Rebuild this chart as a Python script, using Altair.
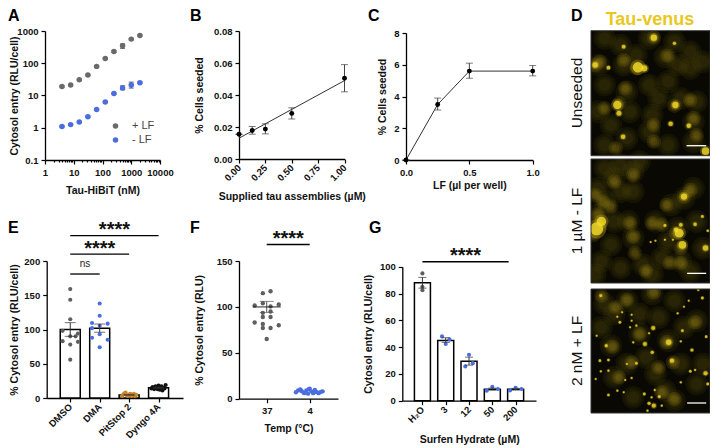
import altair as alt
import pandas as pd

FONT = "Liberation Sans"
GRAY = "#5f5f5f"
BLUE = "#4a6ee0"
ORANGE = "#c8862e"
W, H = 702, 440

# Panel A
a_x = [3.9, 7.8, 15.6, 31, 62.5, 125, 250, 500, 1000, 2000]
a_plus = [19, 21, 31, 43, 80, 140, 230, 350, 560, 730]
a_minus = [1.1, 1.25, 1.5, 2.2, 3.7, 6.3, 11.5, 17, 21, 25]
a_plus_lo = [18, 20, 30, 41, 77, 135, 215, 290, 530, 700]
a_plus_hi = [20, 22, 32, 45, 83, 145, 245, 400, 590, 760]
a_minus_lo = [1.05, 1.2, 1.43, 2.1, 3.5, 6.0, 10.8, 15, 17, 23.5]
a_minus_hi = [1.15, 1.3, 1.57, 2.3, 3.9, 6.6, 12.2, 20, 26, 26.5]
a_xticks = [1, 2, 3, 4, 5, 6, 7, 8, 9, 10, 20, 30, 40, 50, 60, 70, 80, 90, 100, 200, 300, 400, 500,
            600, 700, 800, 900, 1000, 2000, 3000, 4000, 5000, 6000, 7000, 8000, 9000, 10000]
a_yticks = [0.1, 1, 10, 100, 1000]

# Panel B
b_x = [0, 0.125, 0.25, 0.5, 1.0]
b_y = [0.0155, 0.0178, 0.0187, 0.0285, 0.0505]
b_lo = [0.0155, 0.0155, 0.0157, 0.025, 0.042]
b_hi = [0.0155, 0.0203, 0.022, 0.032, 0.059]
b_fit_x = [0, 1.0]
b_fit_y = [0.013, 0.049]

# Panel C
c_x = [0, 0.25, 0.5, 1.0]
c_y = [0, 3.5, 5.6, 5.6]
c_lo = [0, 3.15, 5.15, 5.3]
c_hi = [0, 3.9, 6.1, 5.95]

# Panel E
e_names = ["DMSO", "DMA", "PitStop 2", "Dyngo 4A"]
e_mean = [100, 102, 4.5, 15]
e_lo = [90, 96, 4, 14.3]
e_hi = [110, 108, 5, 15.7]
e_px = [0, 0, 0, -0.26, 0.26, 0, 0.18, -0.26, 0.26, 0, 0, 1, 1, 0.74, 1.27, 1, 0.74, 0.74, 1, 1.27, 1]
e_py = [159, 143.5, 115, 98, 94, 90, 90, 83, 82, 78, 56, 138, 120, 109.5, 108.5, 105.5, 102, 88, 93, 85, 74]
e_pc = ["DMSO"] * 11 + ["DMA"] * 10
e3_px = [1.76, 1.8, 1.84, 1.88, 1.92, 1.96, 2.0, 2.04, 2.08, 2.12, 2.16, 2.2, 2.24]
e3_py = [3, 5, 7, 8, 4, 3, 5, 6, 3, 4, 6, 3, 4.5]
e4_px = [2.76, 2.8, 2.85, 2.9, 2.94, 3.0, 3.04, 3.08, 3.13, 3.17, 3.2, 3.24, 2.96, 3.1]
e4_py = [14, 16, 13, 17, 15, 18, 12, 16, 11, 15, 14, 19, 13, 17]
e_sig_x = [0, 0, 0]
e_sig_x2 = [1, 2, 3]
e_sig_y = [181, 210, 237]
e_txt_x = [0.5, 1, 1.5]
e_txt_y = [195, 224, 251]
e_txt = ["ns", "****", "****"]

# Panel F
f_names = ["37", "4"]
f_x37 = [0.09, -0.09, -0.09, -0.28, 0.28, 0.09, -0.09, 0.09, -0.28, -0.09, 0.09, -0.09, 0.28, -0.09, 0.09, 0]
f_y37 = [117, 115, 104, 101.5, 102.6, 100.5, 93.5, 95, 83, 89, 89, 81.5, 80, 77, 77, 65]
f_x4 = [0.68, 0.73, 0.78, 0.82, 0.87, 0.92, 0.96, 1.0, 1.04, 1.08, 1.12, 1.17, 1.21, 1.26, 1.3, 0.8, 0.98, 1.1]
f_y4 = [7, 9, 10, 8, 6, 9, 5.5, 11, 8, 6, 9.5, 7, 6, 7.5, 8, 9, 10.5, 7]
f_mean_x = [0]
f_mean_y = [100]
f_lo = [94]
f_hi = [106]

# Panel G
g_names = ["H\u2082O", "3", "12", "50", "200"]
g_mean = [88, 45, 29.5, 8.5, 8.5]
g_lo = [84, 43.5, 26.5, 7.8, 7.9]
g_hi = [92, 47, 32.5, 9.4, 9.2]
g_px = [0, 0, 0, 0.84, 1.16, 1, 2, 2.16, 1.84, 3, 3.24, 2.76, 4, 4.25, 3.76]
g_py = [95, 85, 82.5, 48, 45.8, 42.3, 34.3, 28, 25.6, 10.4, 8.7, 7.5, 9.7, 8.7, 7.7]
g_pc = ["a"] * 3 + ["b"] * 12

# Panel D blobs, positions read in a 3x crop of each image
d1_faint = [(60,40),(110,60),(200,40),(280,50),(160,90),(120,120),(40,120),(250,95),(330,80),(60,180),(130,200),
            (200,180),(260,170),(330,130),(370,110),(40,260),(80,300),(140,260),(210,270),(300,220),(350,230),
            (340,290),(200,320),(130,340),(60,360),(260,360),(340,350),(290,120),(230,220)]
d1_mid = [(215,38),(258,92),(160,130),(120,105),(125,190),(105,235),(60,250),(280,242),(330,225),(340,280),
          (215,300),(215,350),(95,370),(350,330),(45,110),(30,120)]
d1_bright = [(165,127,110),(185,130,40),(100,240,70),(105,265,25),(283,240,40),(30,120,30),(268,296,20),(325,302,20),
             (118,335,20),(72,128,14),(120,65,14),(378,378,60),(215,38,40),(280,55,10)]
d2_faint = [(60,40),(110,30),(150,50),(90,70),(40,100),(110,110),(60,140),(150,110),(40,180),(30,220),(90,200),
            (135,200),(150,250),(80,270),(50,320),(110,340),(180,330),(240,310),(300,320),(330,350),(270,150),
            (340,100),(310,130),(290,220),(220,200),(350,200),(260,260),(210,360),(30,360),(370,280),(170,20)]
d2_mid = [(150,60),(90,80),(30,120),(55,140),(80,155),(255,150),(330,105),(310,125),(210,205),(150,245),(140,205),
          (285,235),(300,280),(265,325),(300,325),(190,350),(40,180),(25,240),(45,215),(155,295),(240,210)]
d2_bright = [(35,222,170),(50,200,90),(295,235,80),(305,270,60),(310,125,40),(378,280,30),(345,208,12),(250,212,8),
             (368,185,8),(385,228,6),(205,262,4),(220,258,4),(250,255,4),(275,255,4),(300,210,14),(285,225,20)]
d3_faint = [(60,60),(130,50),(210,30),(280,50),(90,90),(170,90),(230,100),(350,110),(310,130),(170,150),(80,185),
            (130,240),(190,220),(260,170),(300,240),(90,280),(250,320),(280,350),(350,300),(50,130),(220,270),
            (150,340),(370,240)]
d3_mid = [(130,48),(95,70),(215,25),(170,150),(85,188),(255,175),(145,235),(105,280),(280,345),(240,325),(345,115),
          (230,250),(50,35),(275,235)]
d3_bright = [(262,175,30),(213,132,16),(187,180,16),(272,230,18),(335,198,10),(210,205,10),(65,185,10),(45,230,7),
             (72,228,7),(160,238,7),(48,262,5),(72,260,5),(32,285,4),(125,288,4),(145,282,5),(100,320,5),(72,333,7),
             (120,325,4),(185,330,8),(232,338,8),(208,340,5),(200,358,10),(215,365,18),(240,365,5),(195,380,5),
             (378,268,18),(330,262,7),(345,258,5),(385,300,8),(300,295,5),(218,318,5),(290,88,5),(145,92,4),
             (145,110,4),(160,125,5),(108,115,7),(48,35,8),(368,42,8),(355,18,5),(325,50,4),(380,158,7),(305,140,7),
             (200,148,4),(300,172,5),(150,175,5),(130,240,4),(310,68,4),(35,155,4),(140,130,4),(115,85,4),(100,98,4)]
d_names = ["Unseeded", "1 \u00b5M - LF", "2 nM + LF"]
d_bars = [(318, 380, 362), (320, 380, 356), (320, 380, 357)]
d_domains = [(17, 392), (12, 385), (15, 387)]
d_pixel_top = [30.7, 159, 289]
d_pixel_bottom = [155.7, 283, 413]
d_centers = [93, 221, 351]
D_LEFT, D_RIGHT = 591, 710


def px(v):
    return v - 8


def xaxis(left, bottom, **kw):
    return alt.Axis(orient="bottom", offset=-(H - px(bottom)), **kw)


def yaxis(left, **kw):
    return alt.Axis(orient="left", offset=-px(left), **kw)


def letter(ch, x, y):
    return alt.Chart(pd.DataFrame({"t": [ch]})).mark_text(
        font=FONT, fontWeight="bold", fontSize=16, align="left", baseline="top", color="black"
    ).encode(x=alt.value(px(x)), y=alt.value(px(y)), text="t:N")


def err(df, xe, ys, yax, cap, color="#222222", width=1.0):
    base = alt.Chart(df)
    lo = alt.Y("lo:Q", scale=ys, axis=yax)
    hi = alt.Y("hi:Q", scale=ys, axis=yax)
    return alt.layer(
        base.mark_rule(color=color, strokeWidth=width).encode(x=xe, y=lo, y2=alt.Y2("hi:Q")),
        base.mark_tick(color=color, orient="horizontal", size=cap, thickness=width).encode(x=xe, y=lo),
        base.mark_tick(color=color, orient="horizontal", size=cap, thickness=width).encode(x=xe, y=hi))


# ---------- A ----------
ax_a = xaxis(45, 160, values=a_xticks, title="Tau-HiBiT (nM)", titlePadding=9, labelOverlap=False,
             labelExpr="indexof([1,10,100,1000,10000],datum.value)>=0 ? format(datum.value,'d') : ''",
             tickSize={"condition": {"test": "indexof([1,10,100,1000,10000],datum.value)>=0", "value": 4}, "value": 2})
xA = alt.X("x:Q", scale=alt.Scale(type="log", domain=[1, 10000], range=[px(45), px(160)]), axis=ax_a)
ysA = alt.Scale(type="log", domain=[0.1, 1000], range=[px(160), px(31)])
yaA = yaxis(45, values=a_yticks, title="Cytosol entry (RLU/cell)", titlePadding=-3,
            labelExpr="datum.value<1 ? '0.1' : format(datum.value,'d')")
yA = alt.Y("y:Q", scale=ysA, axis=yaA)
dfA = pd.DataFrame({"x": a_x * 2, "y": a_plus + a_minus, "lo": a_plus_lo + a_minus_lo, "hi": a_plus_hi + a_minus_hi,
                    "s": ["+ LF"] * 10 + ["- LF"] * 10})
A = alt.layer(
    err(dfA, xA, ysA, yaA, 5),
    alt.Chart(dfA).mark_circle(size=30, opacity=1).encode(
        x=xA, y=yA,
        color=alt.Color("s:N", scale=alt.Scale(domain=["+ LF", "- LF"], range=["#6a6a6a", BLUE]),
                        legend=alt.Legend(orient="none", legendX=px(110), legendY=px(120.5), title=None, symbolType="circle",
                                          symbolSize=30, labelFontSize=11, labelColor="#444444", labelFontWeight="normal",
                                          rowPadding=2, labelOffset=11))),
)

# ---------- B ----------
xB = alt.X("x:Q", scale=alt.Scale(domain=[0, 1], range=[px(239), px(344.5)]),
           axis=xaxis(239, 159, values=[0, 0.25, 0.5, 0.75, 1], format=".2f", labelAngle=-45, labelAlign="right",
                      labelBaseline="middle", title="Supplied tau assemblies (\u00b5M)", titlePadding=9))
ysB = alt.Scale(domain=[0, 0.08], range=[px(159), px(31)])
yaB = yaxis(239, values=[0, 0.02, 0.04, 0.06, 0.08], format=".2f", title="% Cells seeded", titlePadding=9)
yB = alt.Y("y:Q", scale=ysB, axis=yaB)
dfB = pd.DataFrame({"x": b_x, "y": b_y, "lo": b_lo, "hi": b_hi})
B = alt.layer(
    alt.Chart(pd.DataFrame({"x": b_fit_x, "y": b_fit_y})).mark_line(color="#333333", strokeWidth=1).encode(x=xB, y=yB),
    err(dfB, xB, ysB, yaB, 7, "#444444"),
    alt.Chart(dfB).mark_circle(size=24, color="black", opacity=1).encode(x=xB, y=yB),
)

# ---------- C ----------
xC = alt.X("x:Q", scale=alt.Scale(domain=[0, 1], range=[px(406), px(532.7)]),
           axis=xaxis(406, 160, values=[0, 0.5, 1], format=".1f", title="LF (\u00b5l per well)", titlePadding=4))
ysC = alt.Scale(domain=[0, 8], range=[px(160), px(33)])
yaC = yaxis(406, values=[0, 2, 4, 6, 8], title="% Cells seeded", titlePadding=6)
yC = alt.Y("y:Q", scale=ysC, axis=yaC)
dfC = pd.DataFrame({"x": c_x, "y": c_y, "lo": c_lo, "hi": c_hi})
C = alt.layer(
    alt.Chart(dfC).mark_line(color="#333333", strokeWidth=1).encode(x=xC, y=yC),
    err(dfC, xC, ysC, yaC, 7, "#444444"),
    alt.Chart(dfC).mark_circle(size=24, color="black", opacity=1).encode(x=xC, y=yC),
)

# ---------- E ----------
xE = alt.X("x:Q", scale=alt.Scale(domain=[-0.63, 3.66], range=[px(46.7), px(183)]),
           axis=xaxis(46.7, 398, values=[0, 1, 2, 3], title=None, labelAngle=-45, labelAlign="right", labelBaseline="middle",
                      labelOverlap=False, labelExpr="%s[datum.value]" % str(e_names)))
ysE = alt.Scale(domain=[0, 200], range=[px(398), px(261)])
yaE = yaxis(46.7, values=[0, 50, 100, 150, 200], title="% Cytosol entry (RLU/cell)", titlePadding=4)
yE = alt.Y("y:Q", scale=ysE, axis=yaE)
dfE = pd.DataFrame({"x": [0, 1, 2, 3], "y": e_mean, "lo": e_lo, "hi": e_hi})
ptsE = pd.DataFrame({"x": e_px + e3_px + e4_px, "y": e_py + e3_py + e4_py,
                     "c": e_pc + ["PitStop 2"] * len(e3_px) + ["Dyngo 4A"] * len(e4_px)})
sigE = pd.DataFrame({"x": e_sig_x, "x2": e_sig_x2, "y": e_sig_y})
txtE = pd.DataFrame({"x": e_txt_x, "y": e_txt_y, "t": e_txt})
E = alt.layer(
    alt.Chart(dfE).mark_bar(size=20, orient="vertical", fill="white", stroke="black", strokeWidth=1.5).encode(x=xE, y=yE),
    alt.Chart(ptsE).mark_circle(size=17, opacity=1).encode(
        x=xE, y=yE, color=alt.Color("c:N", legend=None, scale=alt.Scale(domain=e_names, range=[GRAY, BLUE, ORANGE, "#111111"]))),
    err(dfE, xE, ysE, yaE, 11, "#333333"),
    alt.Chart(sigE).mark_rule(color="black", strokeWidth=1.3).encode(x=xE, x2="x2:Q", y=yE),
    alt.Chart(txtE[txtE.t == "ns"]).mark_text(font=FONT, fontSize=10, color="#222222").encode(x=xE, y=yE, text="t:N"),
    alt.Chart(txtE[txtE.t != "ns"]).mark_text(font=FONT, fontSize=20, fontWeight="bold", color="#111111", dy=4).encode(x=xE, y=yE, text="t:N"),
)

# ---------- F ----------
xF = alt.X("x:Q", scale=alt.Scale(domain=[-0.644, 1.658], range=[px(239), px(338)]),
           axis=xaxis(239, 398.7, values=[0, 1], title="Temp (\u00b0C)", titlePadding=8, labelAngle=0,
                      labelExpr="%s[datum.value]" % str(f_names)))
ysF = alt.Scale(domain=[0, 150], range=[px(398.7), px(261)])
yaF = yaxis(239, values=[0, 50, 100, 150], title="% Cytosol entry (RLU)", titlePadding=12)
yF = alt.Y("y:Q", scale=ysF, axis=yaF)
ptsF = pd.DataFrame({"x": f_x37 + f_x4, "y": f_y37 + f_y4, "c": ["a"] * len(f_x37) + ["b"] * len(f_x4)})
dfF = pd.DataFrame({"x": f_mean_x, "y": f_mean_y, "lo": f_lo, "hi": f_hi})
F = alt.layer(
    alt.Chart(ptsF).mark_circle(size=19, opacity=1).encode(
        x=xF, y=yF, color=alt.Color("c:N", legend=None, scale=alt.Scale(domain=["a", "b"], range=[GRAY, BLUE]))),
    err(dfF, xF, ysF, yaF, 14, "#555555"),
    alt.Chart(dfF).mark_tick(color="#111111", orient="horizontal", size=28, thickness=1.3).encode(x=xF, y=yF),
    alt.Chart(pd.DataFrame({"x": [0], "x2": [1], "y": [168]})).mark_rule(color="black", strokeWidth=1.3).encode(x=xF, x2="x2:Q", y=yF),
    alt.Chart(pd.DataFrame({"x": [0.5], "y": [178], "t": ["****"]})).mark_text(font=FONT, fontSize=20, fontWeight="bold", color="#111111", dy=4).encode(x=xF, y=yF, text="t:N"),
)

# ---------- G ----------
xG = alt.X("x:Q", scale=alt.Scale(domain=[-0.649, 4.66], range=[px(402.3), px(536)]),
           axis=xaxis(402.3, 400.7, values=[0, 1, 2, 3, 4], title="Surfen Hydrate (\u00b5M)", titlePadding=11, labelAngle=-45,
                      labelAlign="right", labelBaseline="middle", labelOverlap=False, labelExpr="%s[datum.value]" % str(g_names)))
ysG = alt.Scale(domain=[0, 100], range=[px(400.7), px(266.7)])
yaG = yaxis(402.3, values=[0, 20, 40, 60, 80, 100], title="Cytosol entry (RLU/cell)", titlePadding=6)
yG = alt.Y("y:Q", scale=ysG, axis=yaG)
dfG = pd.DataFrame({"x": [0, 1, 2, 3, 4], "y": g_mean, "lo": g_lo, "hi": g_hi})
ptsG = pd.DataFrame({"x": g_px, "y": g_py, "c": g_pc})
G = alt.layer(
    alt.Chart(dfG).mark_bar(size=16, orient="vertical", fill="white", stroke="black", strokeWidth=1.5).encode(x=xG, y=yG),
    alt.Chart(ptsG).mark_circle(size=17, opacity=1).encode(
        x=xG, y=yG, color=alt.Color("c:N", legend=None, scale=alt.Scale(domain=["a", "b"], range=[GRAY, BLUE]))),
    err(dfG, xG, ysG, yaG, 8, "#333333"),
    alt.Chart(pd.DataFrame({"x": [0], "x2": [3.7], "y": [103.7]})).mark_rule(color="black", strokeWidth=1.3).encode(x=xG, x2="x2:Q", y=yG),
    alt.Chart(pd.DataFrame({"x": [1.85], "y": [110.7], "t": ["****"]})).mark_text(font=FONT, fontSize=20, fontWeight="bold", color="#111111", dy=4).encode(x=xG, y=yG, text="t:N"),
)


# ---------- D ----------
def image(i, faint, mid, bright):
    lo, hi = d_domains[i]
    xs = alt.Scale(domain=[17, 392], range=[px(D_LEFT), px(D_RIGHT)])
    ys = alt.Scale(domain=[lo, hi], range=[px(d_pixel_top[i]), px(d_pixel_bottom[i])])
    xD = alt.X("x:Q", scale=xs, axis=None)
    yD = alt.Y("y:Q", scale=ys, axis=None)
    fdf = pd.DataFrame(faint, columns=["x", "y"])
    mdf = pd.DataFrame(mid, columns=["x", "y"])
    bdf = pd.DataFrame(bright, columns=["x", "y", "s"])
    bg = pd.DataFrame({"x": [17], "x2": [392], "y": [lo], "y2": [hi]})
    layers = [alt.Chart(bg).mark_rect(fill="#0a0802").encode(x=xD, x2="x2:Q", y=yD, y2="y2:Q")]
    for size in (520, 300, 150):
        layers.append(alt.Chart(fdf).mark_circle(size=size, color="#6e6212", opacity=0.12).encode(x=xD, y=yD))
    for size in (210, 110, 45):
        layers.append(alt.Chart(mdf).mark_circle(size=size, color="#b49c1e", opacity=0.15).encode(x=xD, y=yD))
    bdf = bdf.assign(g=bdf.s * 2.2)
    layers.append(alt.Chart(bdf).mark_circle(color="#e6cc22", opacity=0.25).encode(x=xD, y=yD, size=alt.Size("g:Q", scale=None)))
    layers.append(alt.Chart(bdf).mark_circle(color="#f4dc28", opacity=0.8).encode(x=xD, y=yD, size=alt.Size("s:Q", scale=None)))
    return alt.layer(*layers)


def overlay(i):
    lo, hi = d_domains[i]
    xs = alt.Scale(domain=[17, 392], range=[px(D_LEFT), px(D_RIGHT)])
    ys = alt.Scale(domain=[lo, hi], range=[px(d_pixel_top[i]), px(d_pixel_bottom[i])])
    xD = alt.X("x:Q", scale=xs, axis=None)
    yD = alt.Y("y:Q", scale=ys, axis=None)
    b = d_bars[i]
    bg = pd.DataFrame({"x": [17], "x2": [392], "y": [lo], "y2": [hi]})
    return alt.layer(
        alt.Chart(bg).mark_rect(fillOpacity=0, stroke="#333333", strokeWidth=1).encode(x=xD, x2="x2:Q", y=yD, y2="y2:Q"),
        alt.Chart(pd.DataFrame({"x": [b[0]], "x2": [b[1]], "y": [b[2]]})).mark_rule(color="white", strokeWidth=1.3).encode(x=xD, x2="x2:Q", y=yD),
    )


# white strips around and between the three images (page pixels)
mask_x = [570, 710, 591, 591, 591, 591]
mask_x2 = [591, 730, 710, 710, 710, 710]
mask_y = [10, 10, 10, 413, 155.7, 283]
mask_y2 = [430, 430, 30.7, 430, 159, 289]
dfM = pd.DataFrame({"x": mask_x, "x2": mask_x2, "y": mask_y, "y2": mask_y2})
mask = alt.Chart(dfM).mark_rect(fill="white").encode(
    x=alt.X("x:Q", scale=alt.Scale(domain=[8, 8 + W], range=[0, W]), axis=None), x2="x2:Q",
    y=alt.Y("y:Q", scale=alt.Scale(domain=[8, 8 + H], range=[0, H]), axis=None), y2="y2:Q")

dlabels = alt.Chart(pd.DataFrame({"t": d_names, "py": d_centers})).mark_text(
    font=FONT, fontSize=15.5, color="#111111", angle=270, align="center", baseline="middle"
).encode(x=alt.value(px(577)),
         y=alt.Y("py:Q", scale=alt.Scale(domain=[8, 8 + H], range=[0, H]), axis=None), text="t:N")
dtitle = alt.Chart(pd.DataFrame({"t": ["Tau-venus"]})).mark_text(
    font=FONT, fontSize=18, fontWeight="bold", color="#e9c81e", align="center", baseline="middle"
).encode(x=alt.value(px(650)), y=alt.value(px(20)), text="t:N")

letters = alt.layer(
    letter("A", 8, 8), letter("B", 190, 8), letter("C", 368, 8), letter("D", 571, 8),
    letter("E", 8, 220), letter("F", 190, 220), letter("G", 369, 220),
)

chart = alt.layer(
    A, B, C, E, F, G,
    image(0, d1_faint, d1_mid, d1_bright), image(1, d2_faint, d2_mid, d2_bright), image(2, d3_faint, d3_mid, d3_bright),
    mask, overlay(0), overlay(1), overlay(2), dlabels, dtitle, letters,
).resolve_scale(x="independent", y="independent", color="independent").properties(
    width=W, height=H, padding=0, autosize=alt.AutoSizeParams(type="none")
).configure(font=FONT, background="white").configure_view(stroke=None).configure_axis(
    grid=False, domainColor="black", domainWidth=1.3, tickColor="black", tickWidth=1.2, tickSize=4,
    labelFont=FONT, labelFontSize=9.5, labelFontWeight="bold", labelColor="#111111", labelPadding=3,
    titleFont=FONT, titleFontSize=10.5, titleFontWeight="bold", titleColor="#111111", labelFlush=False,
)

chart.save("out.html", embed_options={"renderer": "svg", "actions": False})
